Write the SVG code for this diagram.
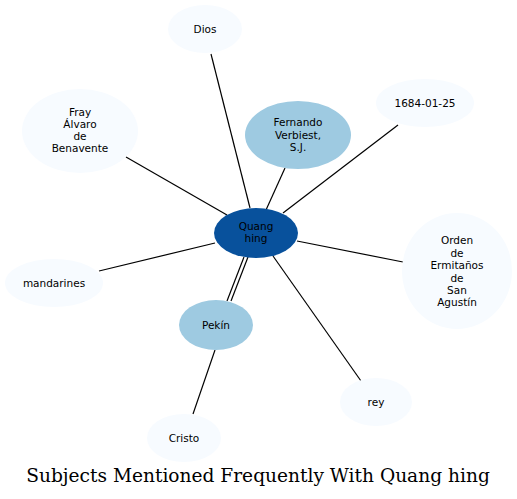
<svg xmlns="http://www.w3.org/2000/svg" width="517" height="499" viewBox="0 0 517 499">
<style>
.n text{font-family:"DejaVu Sans",sans-serif;font-size:10.5px;fill:#000;text-anchor:middle}
.light{fill:#f7fbff}
.mid{fill:#9ecae1}
.dark{fill:#08519c}
.e line{stroke:#000;stroke-width:1.2}
.title{font-family:"DejaVu Serif",serif;font-size:18.6px;text-anchor:middle;fill:#000}
</style>
<rect width="517" height="499" fill="#fff"/>
<g class="e" id="edges">
<line x1="250" y1="208" x2="211" y2="54"/>
<line x1="266" y1="210" x2="285" y2="168"/>
<line x1="283" y1="213" x2="398" y2="125"/>
<line x1="227" y1="215" x2="126" y2="157"/>
<line x1="297" y1="241" x2="403" y2="262"/>
<line x1="215" y1="243" x2="99" y2="271"/>
<line x1="244" y1="257" x2="227" y2="301"/>
<line x1="248" y1="257" x2="231" y2="301"/>
<line x1="273" y1="256" x2="361" y2="381"/>
<line x1="215" y1="350" x2="193" y2="414"/>
</g>
<g class="n" id="dios"><ellipse class="light" cx="205" cy="29" rx="37" ry="24"/><text x="205" y="32.5">Dios</text></g>
<g class="n" id="fernando"><ellipse class="mid" cx="298" cy="135" rx="53" ry="34"/><text x="298" y="126">Fernando</text><text x="298" y="138.5">Verbiest,</text><text x="298" y="151">S.J.</text></g>
<g class="n" id="d1684"><ellipse class="light" cx="425" cy="103" rx="49" ry="24"/><text x="425" y="106.5">1684-01-25</text></g>
<g class="n" id="fray"><ellipse class="light" cx="80" cy="131" rx="58" ry="42"/><text x="80" y="116">Fray</text><text x="80" y="128">Álvaro</text><text x="80" y="140">de</text><text x="80" y="152">Benavente</text></g>
<g class="n" id="quang"><ellipse class="dark" cx="256" cy="233" rx="42" ry="25"/><text x="256" y="230">Quang</text><text x="256" y="242">hing</text></g>
<g class="n" id="orden"><ellipse class="light" cx="457" cy="271" rx="55" ry="58"/><text x="457" y="244">Orden</text><text x="457" y="256.5">de</text><text x="457" y="269">Ermitaños</text><text x="457" y="281.5">de</text><text x="457" y="294">San</text><text x="457" y="306">Agustín</text></g>
<g class="n" id="mandarines"><ellipse class="light" cx="54" cy="283" rx="49" ry="24"/><text x="54" y="286.5">mandarines</text></g>
<g class="n" id="pekin"><ellipse class="mid" cx="216" cy="325" rx="37" ry="25"/><text x="216" y="328.5">Pekín</text></g>
<g class="n" id="rey"><ellipse class="light" cx="376" cy="402" rx="36" ry="24"/><text x="376" y="405.5">rey</text></g>
<g class="n" id="cristo"><ellipse class="light" cx="184" cy="438" rx="37" ry="24"/><text x="184" y="441.5">Cristo</text></g>
<text class="title" x="258" y="482">Subjects Mentioned Frequently With Quang hing</text>
</svg>
